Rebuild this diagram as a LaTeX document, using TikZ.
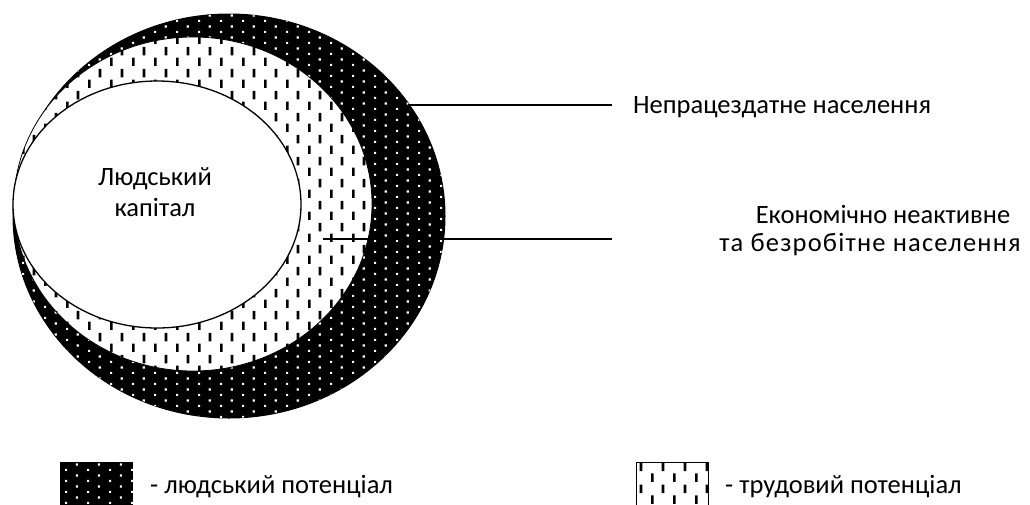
\documentclass[tikz,border=0pt]{standalone}
\usepackage{fontspec}
\setmainfont{Carlito}
\usetikzlibrary{patterns,shapes.geometric}
\pgfdeclarepatternformonly{hpdots}{\pgfpointorigin}{\pgfpoint{21.7pt}{10.85pt}}{\pgfpoint{21.7pt}{10.85pt}}{%
  \pgfpathrectangle{\pgfpoint{0pt}{0pt}}{\pgfpoint{2.2pt}{2.2pt}}%
  \pgfpathrectangle{\pgfpoint{10.85pt}{5.42pt}}{\pgfpoint{2.2pt}{2.2pt}}%
  \pgfusepath{fill}}
\pgfdeclarepatternformonly{hpdash}{\pgfpointorigin}{\pgfpoint{21.7pt}{21.7pt}}{\pgfpoint{21.7pt}{21.7pt}}{%
  \pgfpathrectangle{\pgfpoint{0pt}{0pt}}{\pgfpoint{2.7pt}{8.5pt}}%
  \pgfpathrectangle{\pgfpoint{10.85pt}{10.85pt}}{\pgfpoint{2.7pt}{8.5pt}}%
  \pgfusepath{fill}}
\tikzset{
  human/.style={fill=black, postaction={pattern=hpdots, pattern color=white}},
  labour/.style={fill=white, postaction={pattern=hpdash, pattern color=black}},
  lbl/.style={font=\fontsize{26.5}{30}\selectfont, inner sep=0pt},
  conn/.style={line width=1.3pt},
}
\begin{document}
\begin{tikzpicture}[x=1pt,y=-1pt]
\useasboundingbox (0,0) rectangle (1030,504);
% ellipses
\node[ellipse, inner sep=0pt, minimum width=432pt, minimum height=404pt, draw, line width=1pt, human] (outer) at (229,216) {};
\node[ellipse, inner sep=0pt, minimum width=358pt, minimum height=334pt, draw, line width=0.8pt, labour] (middle) at (193,204) {};
\node[ellipse, inner sep=0pt, minimum width=288pt, minimum height=247pt, draw, line width=1.3pt, fill=white] (inner) at (157,204.5) {};
\node[lbl, align=center, font=\fontsize{26.5}{31}\selectfont] (hc) at (155,192.5) {Людський\\капітал};
% labels
\node[lbl, anchor=west] (l1) at (633,107) {Непрацездатне населення};
\node[lbl, align=center, font=\fontsize{26.5}{28}\selectfont] (l2) at (870,231) {\hspace*{26pt}Економічно неактивне\\{\addfontfeature{LetterSpace=4.5}та безробітне населення}};
% connectors
\coordinate (s1) at (408,105);
\coordinate (e1) at (612,105);
\coordinate (s2) at (323,239);
\coordinate (e2) at (612,239);
\draw[conn] (s1) -- (e1);
\draw[conn] (s2) -- (e2);
% legend
\path[human] (60,462) rectangle (133,510);
\node[lbl, anchor=west] (lg1) at (150,487) {- людський потенціал};
\draw[labour, line width=0.8pt] (636,462) rectangle (708,510);
\node[lbl, anchor=west] (lg2) at (725,487) {- трудовий потенціал};
\end{tikzpicture}
\end{document}
